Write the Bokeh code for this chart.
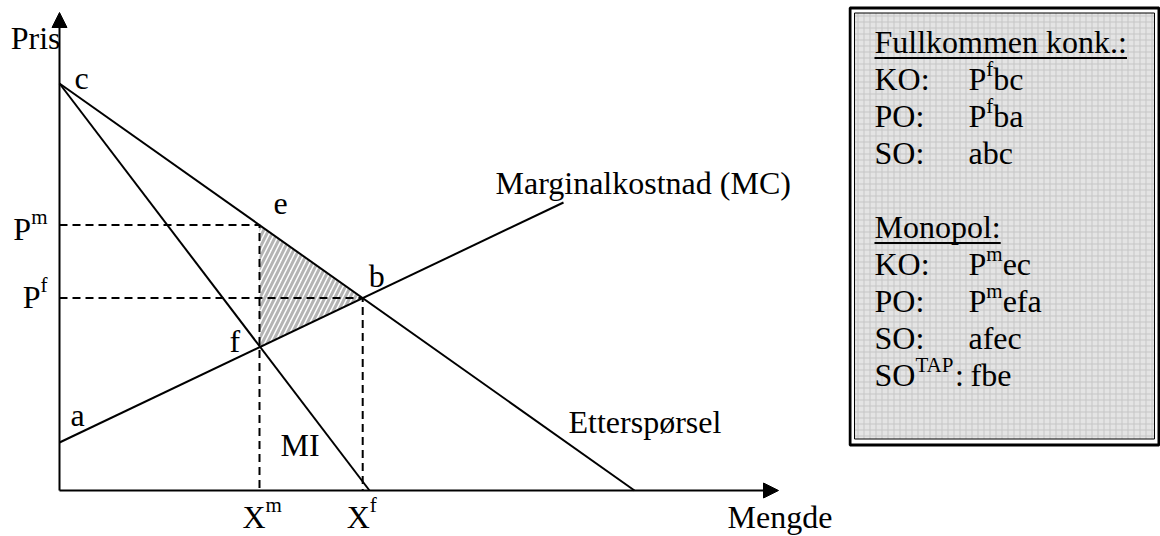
from bokeh.plotting import figure
from bokeh.models import Range1d, Arrow, NormalHead
from bokeh.layouts import row
from bokeh.embed import file_html
from bokeh.resources import INLINE
from bokeh.core.properties import value

# ---- market model: quantity (X) and price (P) ----
demand_q = [0.0, 115.0]
demand_p = [81.4, 0.0]
mi_q = [0.0, 62.0]
mi_p = [81.4, 0.0]
mc_q = [0.0, 100.8]
mc_p = [9.6, 57.6]
x_monopoly = 40.0
axis_q_max = 143.8
axis_p_max = 95.6

# ---- summary box text ----
heading_perfect = "Fullkommen konk.:"
rows_perfect = [("KO:", "P", "f", "bc"), ("PO:", "P", "f", "ba"), ("SO:", "", "", "abc")]
heading_monopoly = "Monopol:"
rows_monopoly = [("KO:", "P", "m", "ec"), ("PO:", "P", "m", "efa"), ("SO:", "", "", "afec")]
loss_row = ("SO", "TAP", ":", "fbe")

FONT = "Liberation Serif"
INK = "black"

# advance widths (em) of the serif face, used to chain superscripts
ADV = {"F": .556, "u": .5, "l": .278, "k": .5, "o": .5, "m": .778, "e": .444, "n": .5,
       " ": .25, ".": .25, ":": .278, "M": .889, "p": .5, "P": .556, "X": .722,
       "S": .556, "O": .722, "T": .611, "A": .722, "f": .333, "K": .722, "a": .444,
       "b": .5, "c": .444}

# the renderer sets alphabetic text a little low; lift it back onto the baseline
BASELINE_LIFT = 0.35
SUP_RISE = 14


def text_width(s, size):
    return sum(ADV.get(ch, .5) for ch in s) * size


def value_at(qs, ps, q):
    slope = (ps[1] - ps[0]) / (qs[1] - qs[0])
    return ps[0] + slope * (q - qs[0])


def crossing(q1, p1, q2, p2):
    s1 = (p1[1] - p1[0]) / (q1[1] - q1[0])
    s2 = (p2[1] - p2[0]) / (q2[1] - q2[0])
    b1 = p1[0] - s1 * q1[0]
    b2 = p2[0] - s2 * q2[0]
    q = (b2 - b1) / (s1 - s2)
    return q, b1 + s1 * q


p_monopoly = value_at(demand_q, demand_p, x_monopoly)
p_mc_at_monopoly = value_at(mc_q, mc_p, x_monopoly)
q_comp, p_comp = crossing(demand_q, demand_p, mc_q, mc_p)


def label(fig, x, y, txt, dx=0, dy=0, size=32, align="left"):
    fig.text(x=[x], y=[y], text=[txt], x_offset=dx, y_offset=dy - BASELINE_LIFT * size,
             text_font=value(FONT), text_font_size=f"{size}px",
             text_align=align, text_baseline="alphabetic", text_color=INK)


def sup_label(fig, x, y, base, sup, dx=0, dy=0, size=32, sup_size=21, rise=SUP_RISE + 2, align="left"):
    if align == "right":
        dx -= text_width(base, size) + text_width(sup, sup_size)
    label(fig, x, y, base, dx, dy, size)
    label(fig, x, y, sup, dx + text_width(base, size), dy - rise, sup_size)


# ---- diagram ----
PX = 5.0  # pixels per unit on both axes
p = figure(width=848, height=536,
           x_range=Range1d(-59 / PX, (848 - 59) / PX),
           y_range=Range1d((490 - 536) / PX, 490 / PX),
           x_axis_type=None, y_axis_type=None,
           output_backend="svg", toolbar_location=None,
           min_border=0, outline_line_color=None, background_fill_color="white")
p.grid.visible = False

# deadweight-loss triangle f-b-e
p.patch([x_monopoly, q_comp, x_monopoly], [p_mc_at_monopoly, p_comp, p_monopoly],
        fill_color="white", fill_alpha=0, line_color=None,
        hatch_pattern="/", hatch_color="#b4b4b4", hatch_weight=3, hatch_scale=10)

# guide lines to the axes
dash = dict(line_color=INK, line_width=2, line_dash="8 5")
p.line([0, x_monopoly, x_monopoly], [p_monopoly, p_monopoly, 0], **dash)
p.line([0, q_comp, q_comp], [p_comp, p_comp, 0], **dash)

solid = dict(line_color=INK, line_width=2)
p.line(demand_q, demand_p, **solid)
p.line(mi_q, mi_p, **solid)
p.line(mc_q, mc_p, **solid)

# axes with arrow heads
for xe, ye in ((0, axis_p_max), (axis_q_max, 0)):
    p.add_layout(Arrow(end=NormalHead(size=15, fill_color=INK, line_color=INK, line_width=1),
                       x_start=0, y_start=0, x_end=xe, y_end=ye,
                       line_color=INK, line_width=2))

label(p, 0, axis_p_max, "Pris", dx=1, dy=37, align="right")
label(p, axis_q_max, 0, "Mengde", dx=-51, dy=38)
label(p, mc_q[1], mc_p[1], "Marginalkostnad (MC)", dx=-68, dy=-8)
label(p, demand_q[1], 0, "Etterspørsel", dx=-66, dy=-57)
label(p, mi_q[1], 0, "MI", dx=-89, dy=-34)

label(p, 0, demand_p[0], "c", dx=15, dy=6)
label(p, x_monopoly, p_monopoly, "e", dx=14, dy=-10)
label(p, q_comp, p_comp, "b", dx=6, dy=-11)
label(p, x_monopoly, p_mc_at_monopoly, "f", dx=-30, dy=5)
label(p, 0, mc_p[0], "a", dx=11, dy=-16)

sup_label(p, 0, p_monopoly, "P", "m", dx=-12, dy=15, align="right")
sup_label(p, 0, p_comp, "P", "f", dx=-12, dy=10, align="right")
sup_label(p, x_monopoly, 0, "X", "m", dx=-17, dy=38)
sup_label(p, q_comp, 0, "X", "f", dx=-16, dy=38)

# ---- summary box ----
q = figure(width=312, height=536, x_range=Range1d(848, 1160), y_range=Range1d(536, 0),
           x_axis_type=None, y_axis_type=None,
           output_backend="svg", toolbar_location=None,
           min_border=0, outline_line_color=None, background_fill_color="white")
q.grid.visible = False

q.quad(left=[849.5], right=[1158.5], top=[7.5], bottom=[444.5],
       fill_color="white", line_color=INK, line_width=3)
q.quad(left=[854], right=[1154], top=[12.5], bottom=[438.5],
       fill_color="#e4e4e4", line_color=INK, line_width=1,
       hatch_pattern="+", hatch_color="#c6c6c6", hatch_weight=1, hatch_scale=6)

COL1, COL2 = 874, 968
LINE0, STEP = 53, 37


def heading(y, txt):
    label(q, COL1, y, txt)
    q.line([COL1, COL1 + text_width(txt, 32)], [y + 4.5, y + 4.5], line_color=INK, line_width=2)


def entry(y, key, base, sup, rest):
    label(q, COL1, y, key)
    x = COL2
    if base:
        label(q, x, y, base)
        x += text_width(base, 32)
        label(q, x, y, sup, dy=-SUP_RISE, size=21)
        x += text_width(sup, 21)
    label(q, x, y, rest)


y = LINE0
heading(y, heading_perfect)
for r in rows_perfect:
    y += STEP
    entry(y, *r)
y += 2 * STEP
heading(y, heading_monopoly)
for r in rows_monopoly:
    y += STEP
    entry(y, *r)
y += STEP
key, sup, colon, rest = loss_row
label(q, COL1, y, key)
xs = COL1 + text_width(key, 32)
label(q, xs, y, sup, dy=-SUP_RISE, size=21)
xs += text_width(sup, 21)
label(q, xs, y, colon)
label(q, COL2 + 2, y, rest)

layout = row(p, q, spacing=0)
open("out.html", "w").write(file_html(layout, INLINE))
